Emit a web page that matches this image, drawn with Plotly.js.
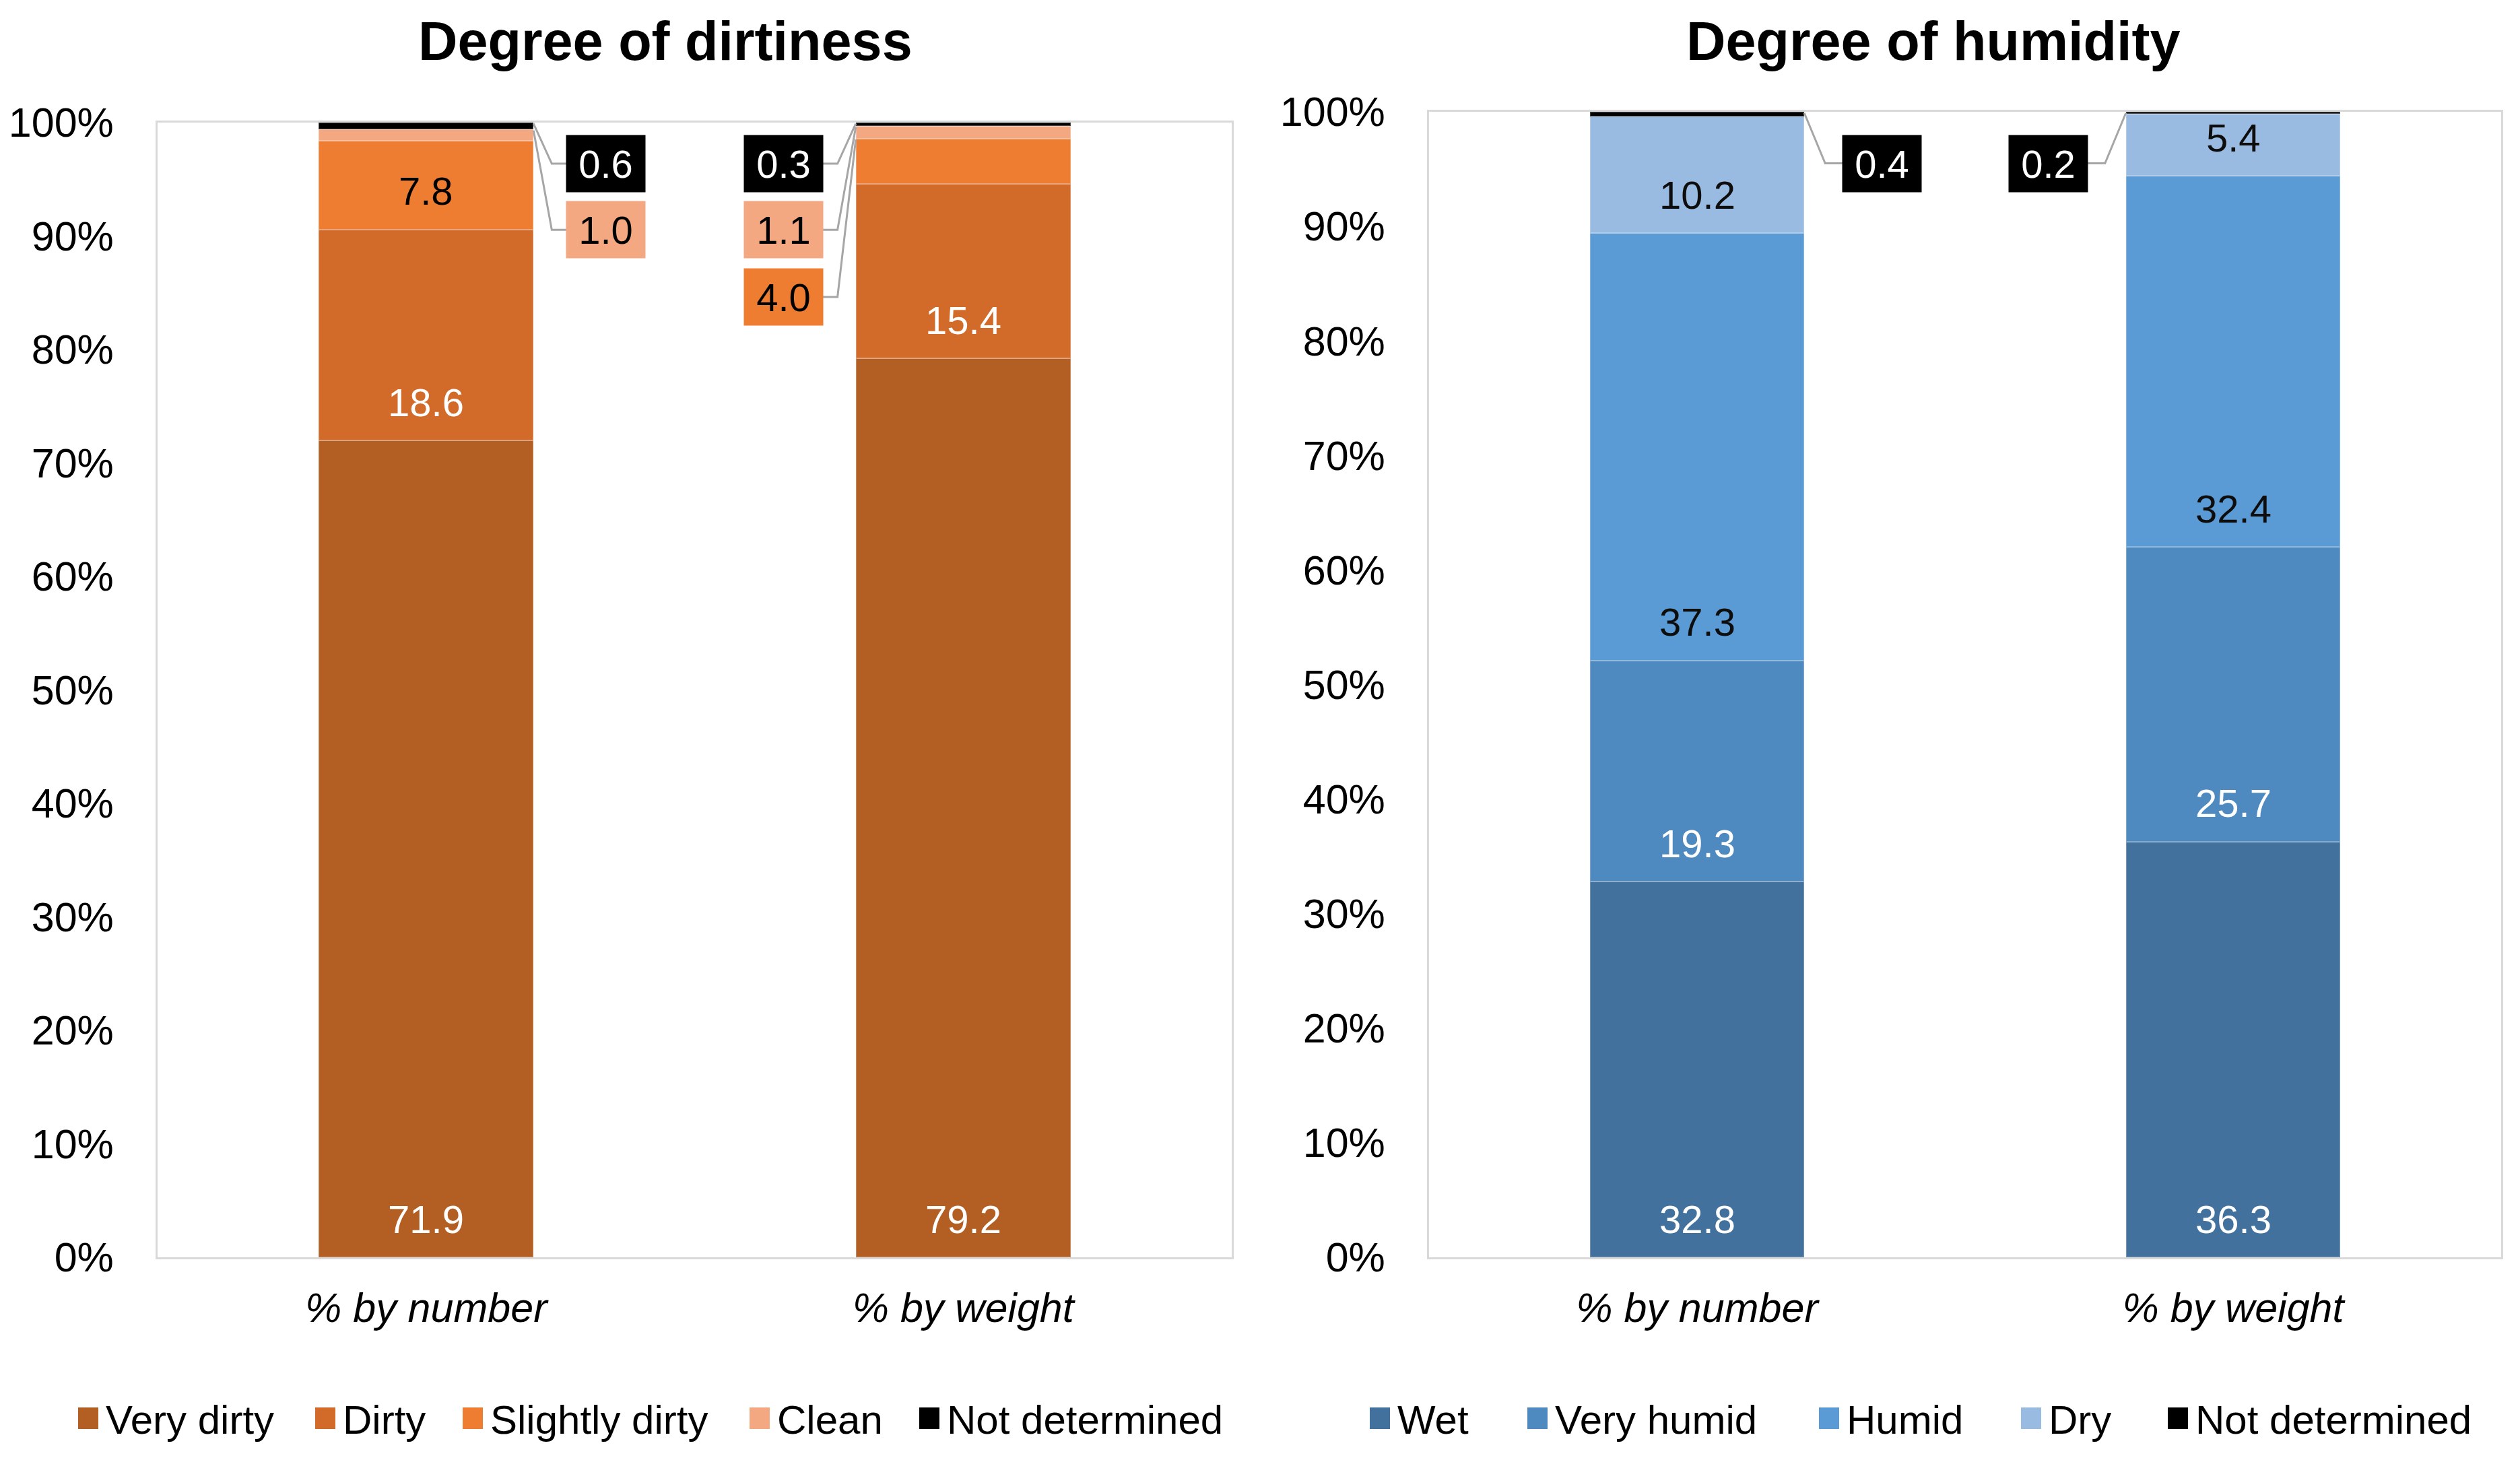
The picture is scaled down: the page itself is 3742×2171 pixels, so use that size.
<!DOCTYPE html>
<html>
<head>
<meta charset="utf-8">
<script src="https://cdn.plot.ly/plotly-3.0.1.min.js"></script>
<style>html,body{margin:0;padding:0;background:#fff;}#chart{width:3742px;height:2171px;}</style>
</head>
<body>
<div id="chart"></div>
<script>
// ---- data ----
const categories = ['% by number', '% by weight'];
const dirtSeries = ['Very dirty', 'Dirty', 'Slightly dirty', 'Clean', 'Not determined'];
const dirtByNumber = [71.9, 18.6, 7.8, 1.0, 0.6];
const dirtByWeight = [79.2, 15.4, 4.0, 1.1, 0.3];
const humSeries = ['Wet', 'Very humid', 'Humid', 'Dry', 'Not determined'];
const humByNumber = [32.8, 19.3, 37.3, 10.2, 0.4];
const humByWeight = [36.3, 25.7, 32.4, 5.4, 0.2];
const yTickValues = [0, 10, 20, 30, 40, 50, 60, 70, 80, 90, 100];
const yTickLabels = ['0%', '10%', '20%', '30%', '40%', '50%', '60%', '70%', '80%', '90%', '100%'];
const chartTitles = ['Degree of dirtiness', 'Degree of humidity'];

// ---- styles ----
const W = 3742, H = 2171;
const FONT = 'Liberation Sans, Arial, Helvetica, sans-serif';
const dirtColors = ['#B35E22', '#D26B2A', '#EE7D31', '#F3A882', '#000000'];
const humColors = ['#41719C', '#4E89BF', '#5B9BD5', '#99BAE1', '#000000'];
const dirtText = ['#FFFFFF', '#FFFFFF', '#000000', '#000000', '#FFFFFF'];
const humText = ['#FFFFFF', '#FFFFFF', '#0D0D0D', '#0D0D0D', '#FFFFFF'];
const xPos = [0, 1];
const BAR_W = 0.4;
// legend key positions (pixels from the left edge)
const dirtLegendX = [116, 468, 687, 1113, 1365];
const humLegendX = [2034, 2268, 2701, 3001, 3219];
const LEGEND_Y = 2106;

const traces = [];
const annotations = [];
const shapes = [];

function buildChart(seriesNames, byNum, byWt, colors, textColors, xa, ya, legendX, cfg) {
  const cols = [byNum, byWt];
  seriesNames.forEach((name, i) => {
    traces.push({
      type: 'bar', name: name, x: xPos, y: [byNum[i], byWt[i]],
      width: BAR_W, xaxis: xa, yaxis: ya, showlegend: false,
      marker: { color: colors[i], line: { color: 'rgba(255,255,255,0.28)', width: 2 } },
      hoverinfo: 'skip'
    });
    // legend key
    shapes.push({
      type: 'rect', xref: 'paper', yref: 'paper',
      x0: legendX[i] / W, x1: (legendX[i] + 30) / W,
      y0: 1 - (LEGEND_Y + 16) / H, y1: 1 - (LEGEND_Y - 16) / H,
      fillcolor: colors[i], line: { width: 0 }
    });
    annotations.push({
      xref: 'paper', yref: 'paper', x: (legendX[i] + 39) / W, y: 1 - (LEGEND_Y + 2) / H,
      text: name, showarrow: false, xanchor: 'left', yanchor: 'middle',
      font: { family: FONT, size: 60, color: '#000' }
    });
  });
  cols.forEach((vals, j) => {
    const total = vals.reduce((a, b) => a + b, 0);
    let cum = 0;
    const side = j === 0 ? 1 : -1;
    const calloutOrder = [];
    vals.forEach((v, i) => {
      const base = cum / total * 100;
      const top = (cum + v) / total * 100;
      cum += v;
      if (v >= 5) {
        annotations.push({
          xref: xa, yref: ya, x: xPos[j], y: base, yshift: cfg.labelShift,
          text: v.toFixed(1), showarrow: false, yanchor: 'middle', xanchor: 'center',
          font: { family: FONT, size: 58, color: textColors[i] }
        });
      } else {
        calloutOrder.unshift({ i: i, v: v, top: top });
      }
    });
    calloutOrder.forEach((c, k) => {
      const ly = cfg.slots[k];
      const lx = xPos[j] + side * cfg.labelOff;
      annotations.push({
        xref: xa, yref: ya, x: lx, y: ly, text: c.v.toFixed(1), showarrow: false,
        xanchor: 'center', yanchor: 'middle', width: 117, height: 84, borderpad: 0,
        bgcolor: colors[c.i],
        font: { family: FONT, size: 58, color: c.i === 4 ? '#FFFFFF' : '#000000' }
      });
      const edge = xPos[j] + side * BAR_W / 2;
      const elbow = xPos[j] + side * cfg.elbowOff;
      const lEdge = xPos[j] + side * (cfg.labelOff - cfg.halfBox);
      shapes.push({
        type: 'path', xref: xa, yref: ya,
        path: `M ${edge} ${c.top - 0.1} L ${elbow} ${ly} L ${lEdge} ${ly}`,
        line: { color: '#A6A6A6', width: 3 }
      });
    });
  });
}

buildChart(dirtSeries, dirtByNumber, dirtByWeight, dirtColors, dirtText, 'x', 'y', dirtLegendX,
  { labelShift: 57, slots: [96.38, 90.55, 84.63], labelOff: 0.335, elbowOff: 0.234, halfBox: 0.073 });
buildChart(humSeries, humByNumber, humByWeight, humColors, humText, 'x2', 'y2', humLegendX,
  { labelShift: 57, slots: [95.5], labelOff: 0.345, elbowOff: 0.239, halfBox: 0.073 });

// titles
annotations.push({ xref: 'paper', yref: 'paper', x: 988 / W, y: 1 - 61 / H, text: '<b>' + chartTitles[0] + '</b>',
  showarrow: false, xanchor: 'center', yanchor: 'middle', font: { family: FONT, size: 81, color: '#000' } });
annotations.push({ xref: 'paper', yref: 'paper', x: 2871 / W, y: 1 - 61 / H, text: '<b>' + chartTitles[1] + '</b>',
  showarrow: false, xanchor: 'center', yanchor: 'middle', font: { family: FONT, size: 81, color: '#000' } });

const xAxisBase = {
  range: [-0.5, 1.5], tickvals: xPos, ticktext: categories, ticks: '', showgrid: false, zeroline: false,
  showline: true, mirror: true, linecolor: '#D9D9D9', linewidth: 3, ticklabelstandoff: 20,
  tickfont: { family: FONT, size: 61, color: '#000', style: 'italic' }, fixedrange: true
};
const yAxisBase = {
  range: [0, 100], tickvals: yTickValues, ticktext: yTickLabels, ticks: '', showgrid: false, zeroline: false,
  showline: true, mirror: true, linecolor: '#D9D9D9', linewidth: 3, ticklabelstandoff: 50,
  tickfont: { family: FONT, size: 61, color: '#000' }, fixedrange: true
};

const layout = {
  width: W, height: H, autosize: false,
  margin: { l: 0, r: 0, t: 0, b: 0 },
  paper_bgcolor: '#FFFFFF', plot_bgcolor: '#FFFFFF',
  barmode: 'stack', barnorm: 'percent',
  font: { family: FONT, size: 58, color: '#000' },
  xaxis: Object.assign({}, xAxisBase, { domain: [234 / W, 1829 / W], anchor: 'y' }),
  yaxis: Object.assign({}, yAxisBase, { domain: [1 - 1867 / H, 1 - 182 / H], anchor: 'x' }),
  xaxis2: Object.assign({}, xAxisBase, { domain: [2122 / W, 3714 / W], anchor: 'y2' }),
  yaxis2: Object.assign({}, yAxisBase, { domain: [1 - 1867 / H, 1 - 166 / H], anchor: 'x2' }),
  annotations: annotations,
  shapes: shapes,
  showlegend: false
};

Plotly.newPlot('chart', traces, layout, { staticPlot: true, displayModeBar: false });
</script>
</body>
</html>
